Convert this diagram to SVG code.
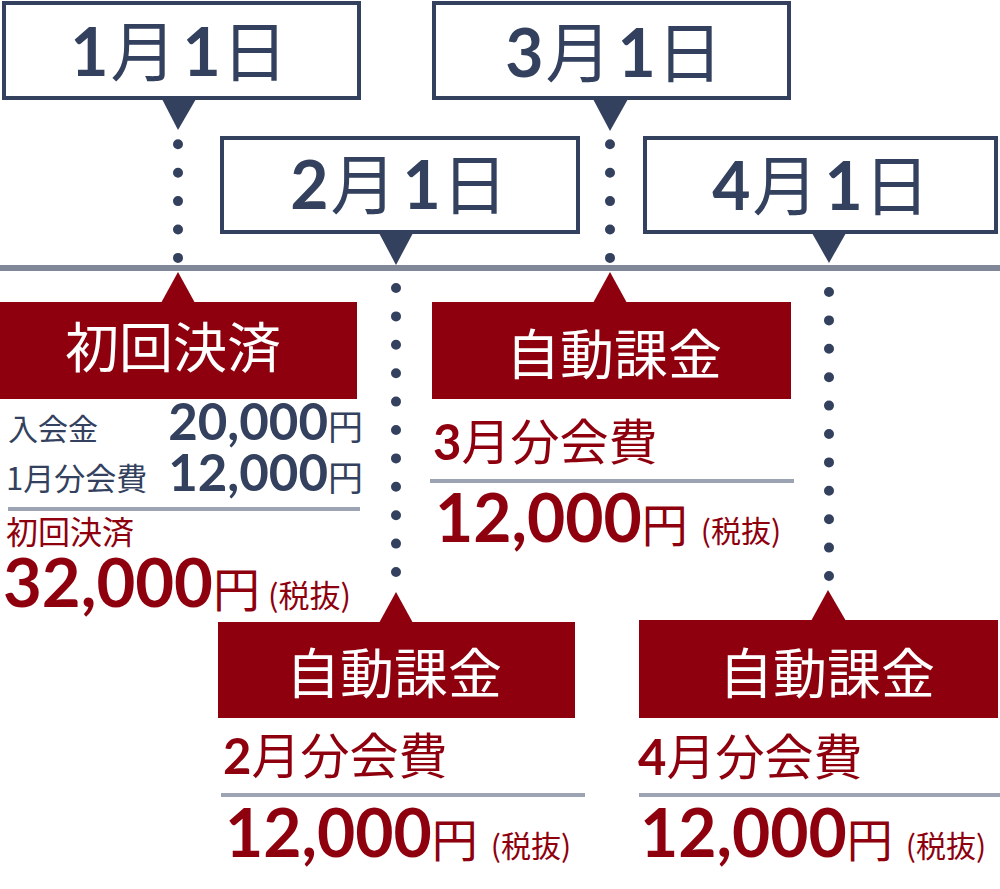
<svg xmlns="http://www.w3.org/2000/svg" width="1000" height="889" viewBox="0 0 1000 889">
<defs>
<style>
.box { fill:#ffffff; stroke:#33415e; stroke-width:4; }
.navy { fill:#33415e; }
.red { fill:#8e000e; }
.dots { stroke:#33415e; stroke-width:10; stroke-linecap:round; stroke-dasharray:0 28.4; fill:none; }
.sep { fill:#9ca4b4; }
.num { font-family:Lato, "Liberation Sans", sans-serif; font-weight:700; }
.jp { font-family:"Noto Sans CJK JP", "Noto Sans", sans-serif; font-weight:400; }
.date { font-size:66px; fill:#33415e; text-anchor:middle; }
.head { font-family:"Noto Sans CJK JP", sans-serif; font-size:54px; fill:#ffffff; text-anchor:middle; }
.rt { fill:#8e000e; }
.nt { fill:#33415e; }
</style>
</defs>
<rect id="timeline" x="0" y="265" width="1000" height="6" fill="#7f8799"/>
<g id="connectors">
<line class="dots" x1="178" y1="144.3" x2="178" y2="258"/>
<line class="dots" x1="610" y1="144.3" x2="610" y2="258"/>
<line class="dots" x1="396" y1="288" x2="396" y2="572"/>
<line class="dots" x1="829" y1="292" x2="829" y2="576"/>
</g>
<g id="date-jan">
<rect class="box" x="4" y="3" width="355" height="95"/>
<polygon class="navy" points="162,99 196,99 178,130"/>
<text class="date" x="179" y="76"><tspan class="num">1</tspan><tspan class="jp" dx="2">月</tspan><tspan class="num" dx="6">1</tspan><tspan class="jp" dx="1">日</tspan></text>
</g>
<g id="date-feb">
<rect class="box" x="222" y="138" width="356" height="94"/>
<polygon class="navy" points="379,233 413,233 396,265"/>
<text class="date" x="399" y="209"><tspan class="num">2</tspan><tspan class="jp" dx="2">月</tspan><tspan class="num" dx="6">1</tspan><tspan class="jp" dx="1">日</tspan></text>
</g>
<g id="date-mar">
<rect class="box" x="434" y="3" width="355" height="95"/>
<polygon class="navy" points="593,99 628,99 610,131"/>
<text class="date" x="614" y="77"><tspan class="num">3</tspan><tspan class="jp" dx="2">月</tspan><tspan class="num" dx="6">1</tspan><tspan class="jp" dx="1">日</tspan></text>
</g>
<g id="date-apr">
<rect class="box" x="645" y="138" width="351" height="94"/>
<polygon class="navy" points="812,233 846,233 829,263"/>
<text class="date" x="821" y="210"><tspan class="num">4</tspan><tspan class="jp" dx="2">月</tspan><tspan class="num" dx="6">1</tspan><tspan class="jp" dx="1">日</tspan></text>
</g>
<g id="pay-jan">
<polygon class="red" points="161,303 195,303 178,272"/>
<rect class="red" x="0" y="302" width="357" height="97"/>
<text class="head" x="173" y="368">初回決済</text>
<text class="jp nt" x="8" y="440" font-size="30">入会金</text>
<text class="nt" x="363" y="440" text-anchor="end"><tspan class="num" font-size="51">20,000</tspan><tspan class="jp" font-size="35">円</tspan></text>
<text class="nt" x="6" y="490" font-size="31"><tspan class="jp">1月分会費</tspan></text>
<text class="nt" x="363" y="491" text-anchor="end"><tspan class="num" font-size="51">12,000</tspan><tspan class="jp" font-size="35">円</tspan></text>
<rect class="sep" x="8" y="507" width="352" height="4"/>
<text class="jp rt" x="6" y="544" font-size="32">初回決済</text>
<text class="rt" x="3" y="607"><tspan class="num" font-size="67">32,000</tspan><tspan class="jp" font-size="47">円</tspan><tspan class="jp" font-size="31" dx="8">(税抜)</tspan></text>
</g>
<g id="pay-feb">
<polygon class="red" points="379,623 413,623 396,592"/>
<rect class="red" x="218" y="622" width="357" height="96"/>
<text class="head" x="394" y="694">自動課金</text>
<text class="rt" x="223" y="774" font-size="49"><tspan class="num">2</tspan><tspan class="jp">月分会費</tspan></text>
<rect class="sep" x="221" y="793" width="364" height="4"/>
<text class="rt" x="225" y="857"><tspan class="num" font-size="66">12,000</tspan><tspan class="jp" font-size="46">円</tspan><tspan class="jp" font-size="30" dx="13">(税抜)</tspan></text>
</g>
<g id="pay-mar">
<polygon class="red" points="593,303 627,303 610,272"/>
<rect class="red" x="432" y="302" width="359" height="97"/>
<text class="head" x="614" y="375">自動課金</text>
<text class="rt" x="433" y="460" font-size="49"><tspan class="num">3</tspan><tspan class="jp">月分会費</tspan></text>
<rect class="sep" x="430" y="479" width="364" height="4"/>
<text class="rt" x="435" y="542"><tspan class="num" font-size="66">12,000</tspan><tspan class="jp" font-size="46">円</tspan><tspan class="jp" font-size="30" dx="13">(税抜)</tspan></text>
</g>
<g id="pay-apr">
<polygon class="red" points="811,621 846,621 828,590"/>
<rect class="red" x="639" y="620" width="359" height="98"/>
<text class="head" x="827" y="694">自動課金</text>
<text class="rt" x="638" y="775" font-size="49"><tspan class="num">4</tspan><tspan class="jp">月分会費</tspan></text>
<rect class="sep" x="639" y="793" width="361" height="4"/>
<text class="rt" x="640" y="857"><tspan class="num" font-size="66">12,000</tspan><tspan class="jp" font-size="46">円</tspan><tspan class="jp" font-size="30" dx="13">(税抜)</tspan></text>
</g>
</svg>
